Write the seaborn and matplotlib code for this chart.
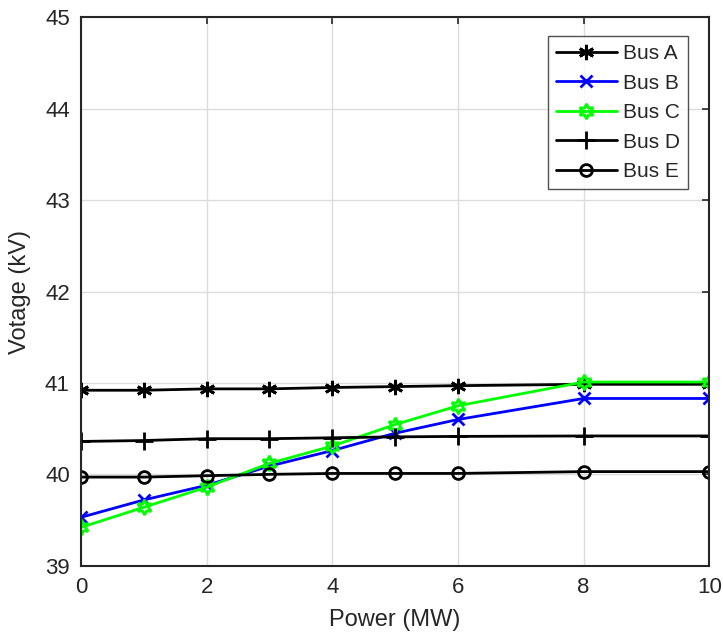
import matplotlib
matplotlib.use("Agg")
import matplotlib.pyplot as plt
import seaborn as sns
import pandas as pd

power = [0, 1, 2, 3, 4, 5, 6, 8, 10]
bus_a = [40.92, 40.92, 40.935, 40.935, 40.95, 40.96, 40.97, 40.985, 40.985]
bus_b = [39.53, 39.72, 39.88, 40.09, 40.26, 40.45, 40.60, 40.83, 40.83]
bus_c = [39.42, 39.64, 39.86, 40.12, 40.31, 40.545, 40.75, 41.01, 41.01]
bus_d = [40.36, 40.37, 40.39, 40.39, 40.40, 40.41, 40.415, 40.42, 40.42]
bus_e = [39.97, 39.97, 39.985, 40.00, 40.01, 40.01, 40.01, 40.03, 40.03]
labels = ["Bus A", "Bus B", "Bus C", "Bus D", "Bus E"]
xticks = [0, 2, 4, 6, 8, 10]
yticks = [39, 40, 41, 42, 43, 44, 45]

sns.set_theme(style="whitegrid")
plt.rcParams['font.family'] = ['Liberation Sans Narrow', 'Liberation Sans', 'DejaVu Sans']

rows = []
for name, vals in zip(labels, [bus_a, bus_b, bus_c, bus_d, bus_e]):
    for x, v in zip(power, vals):
        rows.append({"Power": x, "Voltage": v, "Bus": name})
df = pd.DataFrame(rows)

palette = {"Bus A": "black", "Bus B": "#0000ff", "Bus C": "#00ff00",
           "Bus D": "black", "Bus E": "black"}
markers = {"Bus A": (6, 2, 0), "Bus B": "x", "Bus C": (6, 1, 0),
           "Bus D": "+", "Bus E": "o"}
msizes = {"Bus A": 11, "Bus B": 9, "Bus C": 11, "Bus D": 13, "Bus E": 8.5}

fig = plt.figure(figsize=(7.23, 6.4), dpi=100)
ax = fig.add_axes([0.112, 0.116, 0.869, 0.857])

for name in labels:
    sub = df[df["Bus"] == name]
    kw = dict(marker=markers[name], markersize=msizes[name], markeredgewidth=2,
              markeredgecolor=palette[name])
    if name in ("Bus C", "Bus E"):
        kw.update(markerfacecolor="none")
    sns.lineplot(data=sub, x="Power", y="Voltage", ax=ax, color=palette[name],
                 linewidth=2, label=name, **kw)

ax.set_xlim(0, 10)
ax.set_ylim(39, 45)
ax.set_xticks(xticks)
ax.set_yticks(yticks)
ax.set_xlabel("Power (MW)", fontsize=17, color="#262626", labelpad=8)
ax.set_ylabel("Votage (kV)", fontsize=17, color="#262626", labelpad=10)
ax.tick_params(axis="both", labelsize=16, direction="in", length=5, width=1.2,
               colors="#262626", top=True, right=True, pad=8)
ax.grid(True, color="#dcdcdc", linewidth=1)
for s in ax.spines.values():
    s.set_color("#262626")
    s.set_linewidth(1.5)

leg = ax.legend(loc="upper right", bbox_to_anchor=(0.983, 0.985), fontsize=15,
                frameon=True, fancybox=False, edgecolor="#262626",
                handlelength=2.9, borderpad=0.4, labelspacing=0.5,
                handletextpad=0.3)
leg.get_frame().set_linewidth(1)

fig.savefig("out.png", dpi=100)
